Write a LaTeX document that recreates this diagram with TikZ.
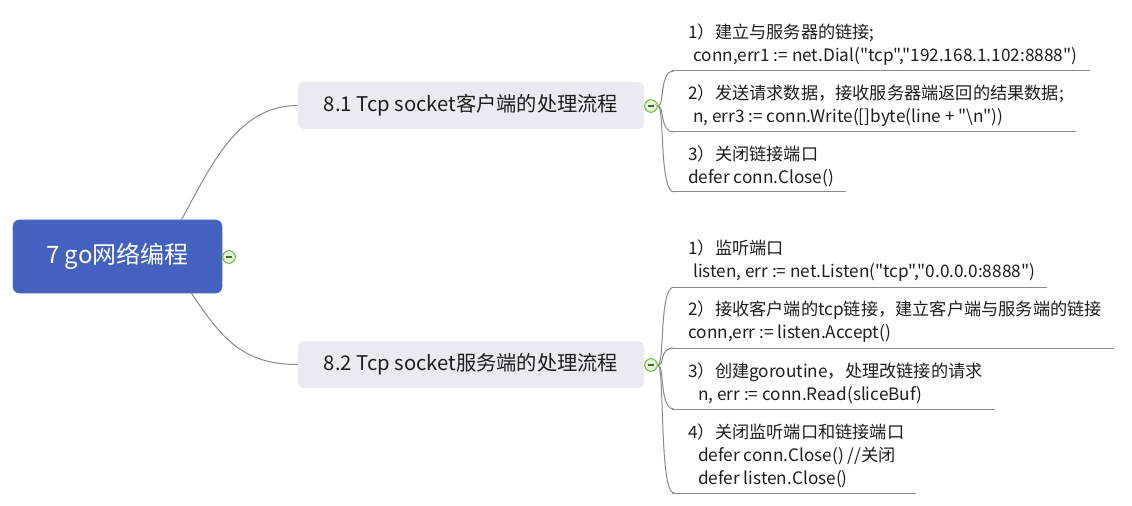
\documentclass[tikz,border=0pt]{standalone}
\usepackage{fontspec}
\newfontfamily\cjk{Noto Sans CJK SC}
\usetikzlibrary{calc}
\definecolor{rootblue}{HTML}{4361BE}
\definecolor{branchbg}{HTML}{E9EAF2}
\definecolor{linegray}{HTML}{8A8A8A}
\definecolor{txt}{HTML}{1E1E1E}
\definecolor{togglegreen}{HTML}{6DB33F}
\definecolor{togglefill}{HTML}{E6F4D8}
\begin{document}
\begin{tikzpicture}[x=0.75pt,y=-0.75pt,
  rootbox/.style={fill=rootblue, draw=rootblue!85!white, rounded corners=4.5pt,
    minimum width=156.75pt, minimum height=54.75pt, inner sep=0pt, text=white,
    font=\cjk\fontsize{18pt}{20pt}\selectfont},
  branchbox/.style={fill=branchbg, rounded corners=4pt, minimum width=259.5pt,
    minimum height=35.25pt, inner sep=0pt, text=txt, font=\cjk\fontsize{15.2pt}{17pt}\selectfont},
  leaf/.style={anchor=south west, align=left, inner xsep=0pt, inner ysep=3.75pt,
    text=txt, font=\cjk\fontsize{12.9pt}{17.25pt}\selectfont},
  conn/.style={draw=linegray, line width=0.75pt},
  uline/.style={draw=linegray, line width=0.75pt},
  toggle/.style={circle, draw=togglegreen, fill=togglefill, minimum size=9.5pt,
    inner sep=0pt, line width=0.75pt,
    path picture={\draw[togglegreen!60!black, line width=1pt]
      ([xshift=-2.6pt]path picture bounding box.center) --
      ([xshift=2.6pt]path picture bounding box.center);}}
]
\useasboundingbox (0,0) rectangle (1132,506);

% root and branches
\node[rootbox] (root) at (117.5,256.5) {7 go网络编程};
\node[toggle] (troot) at (229,257) {};
\node[branchbox] (b1) at (471,105.5) {8.1 Tcp socket客户端的处理流程};
\node[branchbox] (b2) at (471,364.5) {8.2 Tcp socket服务端的处理流程};
\node[toggle] (t1) at (651,106) {};
\node[toggle] (t2) at (651,365) {};

\coordinate (r1) at ($(root.north)+(64,0)$);
\coordinate (r2) at ($(root.south)+(74,0)$);
\draw[conn] (r1) .. controls ($(r1)+(30,-55)$) and ($(b1.west)+(-60,0)$) .. (b1.west);
\draw[conn] (r2) .. controls ($(r2)+(30,45)$) and ($(b2.west)+(-55,0)$) .. (b2.west);

% client leaves
\node[leaf] (c1) at (688,71) {1）建立与服务器的链接;\\\hspace{3.75pt}conn,err1 := net.Dial("tcp","192.168.1.102:8888")};
\node[leaf] (c2) at (688,132) {2）发送请求数据，接收服务器端返回的结果数据;\\\hspace{3.75pt}n, err3 := conn.Write([]byte(line + "\textbackslash n"))};
\node[leaf] (c3) at (688,192) {3）关闭链接端口\\defer conn.Close()};

% server leaves
\node[leaf] (s1) at (688,287) {1）监听端口\\\hspace{3.75pt}listen, err := net.Listen("tcp","0.0.0.0:8888")};
\node[leaf] (s2) at (688,348) {2）接收客户端的tcp链接，建立客户端与服务端的链接\\conn,err := listen.Accept()};
\node[leaf] (s3) at (688,409) {3）创建goroutine，处理改链接的请求\\\hspace{7.5pt}n, err := conn.Read(sliceBuf)};
\node[leaf] (s4) at (688,493) {4）关闭监听端口和链接端口\\\hspace{7.5pt}defer conn.Close() //关闭\\\hspace{7.5pt}defer listen.Close()};

\foreach \n in {c1,c2,c3,s1,s2,s3,s4}{
  \coordinate (u\n) at ($(\n.south west)+(-16,0)$);
  \draw[uline] (u\n) -- ($(\n.south east)+(12,0)$);
}

\foreach \t/\n in {t1/c1,t1/c2,t1/c3,t2/s1,t2/s2,t2/s3,t2/s4}{
  \draw[conn] (\t.east) .. controls ($(\t.east)+(7,0)$) and ($(u\n)+(-13,0)$) .. ($(u\n)+(2,0)$);
}
\end{tikzpicture}
\end{document}
